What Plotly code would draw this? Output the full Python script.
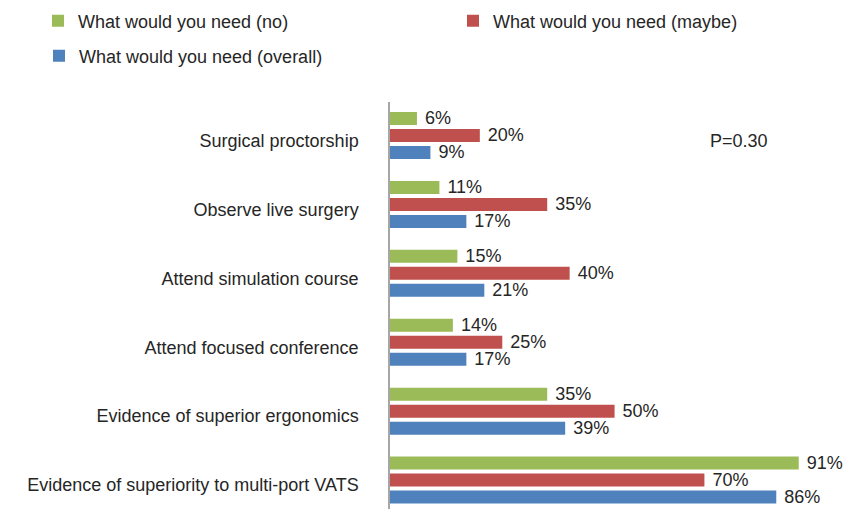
import plotly.graph_objects as go

categories = [
    "Surgical proctorship",
    "Observe live surgery",
    "Attend simulation course",
    "Attend focused conference",
    "Evidence of superior ergonomics",
    "Evidence of superiority to multi-port VATS",
]
need_no = [6, 11, 15, 14, 35, 91]
need_maybe = [20, 35, 40, 25, 50, 70]
need_overall = [9, 17, 21, 17, 39, 86]

series = [
    ("What would you need (no)", need_no, "#9BBB59", "legend"),
    ("What would you need (maybe)", need_maybe, "#C0504D", "legend2"),
    ("What would you need (overall)", need_overall, "#4F81BD", "legend3"),
]

FONT = "Liberation Sans, Arial, sans-serif"
TXT = "#262626"

fig = go.Figure()
for name, vals, color, lg in series:
    fig.add_trace(go.Bar(
        y=categories, x=vals, name=name, orientation="h",
        marker=dict(color=color, line=dict(width=0)),
        text=[f"\u00a0{v}%" for v in vals],
        textposition="outside", cliponaxis=False, constraintext="none",
        textfont=dict(family=FONT, size=18, color=TXT),
        legend=lg, showlegend=True,
    ))

W, H = 845, 509
ML, MT = 390, 102
PW, PH = W - ML, H - MT


def lx(px):
    return px / W


def ly(py):
    return 1 - py / H


legend_common = dict(font=dict(family=FONT, size=18, color=TXT),
                     bgcolor="rgba(0,0,0,0)", borderwidth=0,
                     xref="container", yref="container",
                     xanchor="left", yanchor="middle", visible=True)

fig.update_layout(
    width=W, height=H, showlegend=True,
    margin=dict(l=ML, r=0, t=MT, b=0, autoexpand=False),
    paper_bgcolor="white", plot_bgcolor="white",
    barmode="group", bargap=0.26, bargroupgap=0.235,
    font=dict(family=FONT, size=18, color=TXT),
    legend=dict(x=lx(38), y=ly(21), **legend_common),
    legend2=dict(x=lx(453), y=ly(21), **legend_common),
    legend3=dict(x=lx(39), y=ly(56), **legend_common),
    xaxis=dict(range=[0, 101.3], autorange=False, showticklabels=False,
               ticks="", showline=False, showgrid=False, zeroline=False,
               automargin=False),
    yaxis=dict(
        range=[5.42, -0.486], autorange=False, showgrid=False, zeroline=False,
        showline=True, linecolor="#A6A6A6", linewidth=1.5,
        ticks="", ticklabelstandoff=26, ticklabelshift=-5, automargin=False,
        tickfont=dict(family=FONT, size=18, color=TXT),
    ),
    annotations=[dict(
        text="P=0.30", x=(739 - ML) / PW, y=1 - (141 - MT) / PH,
        xref="paper", yref="paper",
        showarrow=False, xanchor="center", yanchor="middle",
        font=dict(family=FONT, size=18, color=TXT),
    )],
)

fig.write_html(
    "out.html",
    config={"displayModeBar": False},
    post_script="document.body.style.margin='0';document.body.style.overflow='hidden';",
)
